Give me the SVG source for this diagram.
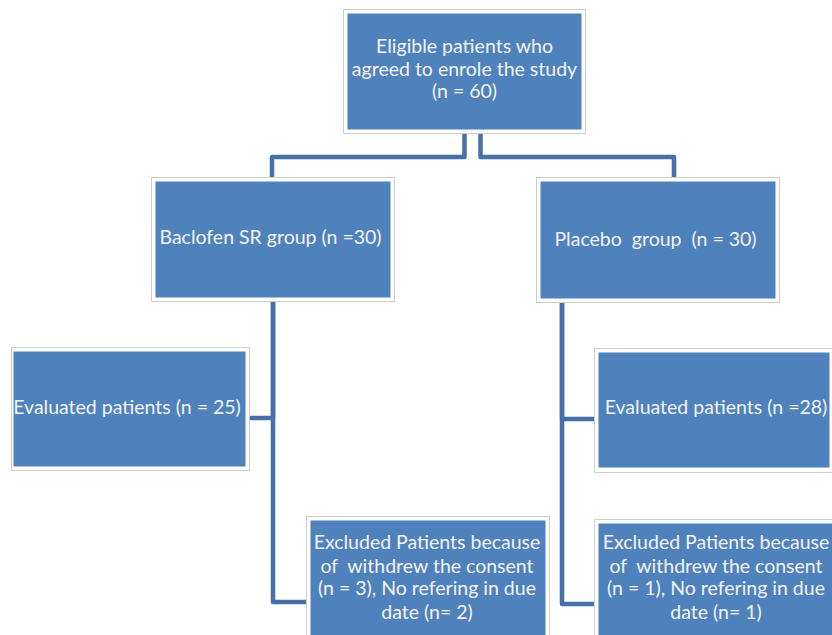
<svg xmlns="http://www.w3.org/2000/svg" width="832" height="635" viewBox="0 0 832 635">
  <style>
    .frame { fill: #ffffff; stroke: #cdcdcd; stroke-width: 1; }
    .box { fill: #4f81bd; }
    .conn { fill: none; stroke: #4570a9; stroke-width: 4.5; stroke-linejoin: round; }
    text { font-family: Lato, "Liberation Sans", sans-serif; font-size: 19.5px; fill: #f2f4f8; text-anchor: middle; }
  </style>
  <rect width="832" height="635" fill="#ffffff"/>
  <g id="connectors">
    <path class="conn" d="M464.5,133 V157 H272 V177"/>
    <path class="conn" d="M480.5,133 V157 H674 V177"/>
    <path class="conn" d="M273,301 V418 H249"/>
    <path class="conn" d="M273,301 V602 H306"/>
    <path class="conn" d="M562,302 V419 H594"/>
    <path class="conn" d="M562,302 V604 H594"/>
  </g>
  <g id="eligible">
    <rect class="frame" x="343.5" y="9.5" width="242" height="124"/>
    <rect class="box" x="347.5" y="13.5" width="234" height="116"/>
    <text x="464.5" y="53">Eligible patients who</text>
    <text x="464.5" y="76">agreed to enrole the study</text>
    <text x="464.5" y="98">(n = 60)</text>
  </g>
  <g id="baclofen">
    <rect class="frame" x="151.5" y="177.5" width="243" height="124"/>
    <rect class="box" x="155.5" y="181.5" width="235" height="116"/>
    <text x="270.5" y="244">Baclofen SR group (n =30)</text>
  </g>
  <g id="placebo">
    <rect class="frame" x="536.5" y="177.5" width="243" height="125"/>
    <rect class="box" x="540.5" y="181.5" width="235" height="117"/>
    <text x="655.5" y="246" xml:space="preserve">Placebo  group  (n = 30)</text>
  </g>
  <g id="evaluated-baclofen">
    <rect class="frame" x="11.5" y="347.5" width="238" height="123"/>
    <rect class="box" x="13.5" y="351.5" width="232" height="115"/>
    <text x="127" y="414">Evaluated patients (n = 25)</text>
  </g>
  <g id="evaluated-placebo">
    <rect class="frame" x="594.5" y="348.5" width="240" height="124"/>
    <rect class="box" x="598.5" y="352.5" width="231" height="115"/>
    <text x="716" y="414">Evaluated patients (n =28)</text>
  </g>
  <g id="excluded-baclofen">
    <rect class="frame" x="306.5" y="516.5" width="243" height="130"/>
    <rect class="box" x="310.5" y="520.5" width="235" height="130"/>
    <text x="427" y="549">Excluded Patients because</text>
    <text x="427" y="573" xml:space="preserve">of  withdrew the consent</text>
    <text x="427" y="595">(n = 3), No refering in due</text>
    <text x="427" y="619">date (n= 2)</text>
  </g>
  <g id="excluded-placebo">
    <rect class="frame" x="594.5" y="519.5" width="243" height="130"/>
    <rect class="box" x="598.5" y="523.5" width="235" height="130"/>
    <text x="716" y="549">Excluded Patients because</text>
    <text x="716" y="573" xml:space="preserve">of  withdrew the consent</text>
    <text x="716" y="595">(n = 1), No refering in due</text>
    <text x="716" y="619">date (n= 1)</text>
  </g>
</svg>
